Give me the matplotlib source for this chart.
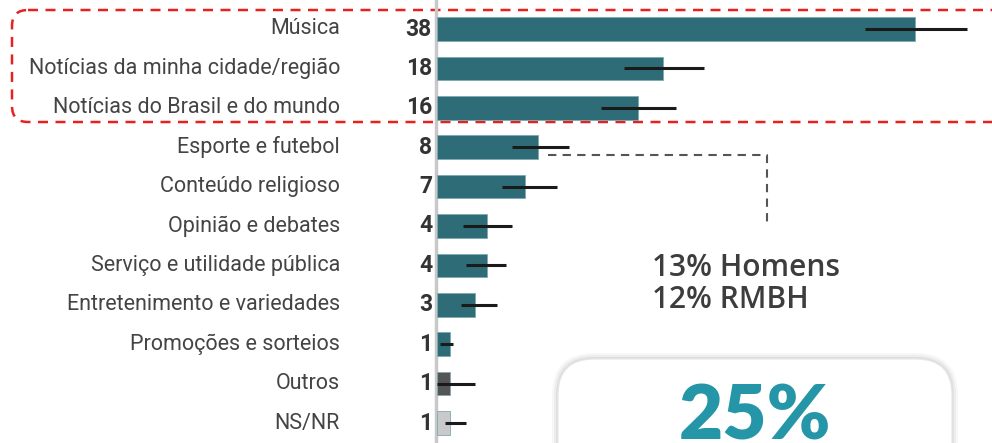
import matplotlib
matplotlib.use("Agg")
import matplotlib.pyplot as plt
from matplotlib.patches import FancyBboxPatch
from matplotlib.transforms import blended_transform_factory

categories = [
    "Música",
    "Notícias da minha cidade/região",
    "Notícias do Brasil e do mundo",
    "Esporte e futebol",
    "Conteúdo religioso",
    "Opinião e debates",
    "Serviço e utilidade pública",
    "Entretenimento e variedades",
    "Promoções e sorteios",
    "Outros",
    "NS/NR",
]
values = [38, 18, 16, 8, 7, 4, 4, 3, 1, 1, 1]
err_low = [4.0, 3.1, 3.0, 2.0, 1.8, 1.9, 1.7, 1.1, 0.8, 1.0, 0.4]
err_high = [4.1, 3.2, 3.0, 2.5, 2.5, 2.0, 1.5, 1.8, 0.3, 2.0, 1.3]

teal = "#2e6d78"
bar_colors = [teal] * 9 + ["#555555", "#c9c9c9"]

W, H = 992, 443
fig = plt.figure(figsize=(W / 100, H / 100), dpi=100)

# overlay in pixel coordinates for decorations
ov = fig.add_axes([0, 0, 1, 1], zorder=0)
ov.set_xlim(0, W)
ov.set_ylim(H, 0)
ov.axis("off")

x0 = 437
px_per_unit = 12.58
row0, step = 29, 39.4

ax = fig.add_axes([x0 / W, 0, (W - x0) / W, 1], zorder=2)
ax.patch.set_alpha(0)
ax.set_xlim(0, (W - x0) / px_per_unit)
ax.set_ylim((H - row0) / step, -row0 / step)
ax.axis("off")

ypos = list(range(len(categories)))
ax.barh(ypos, values, height=0.6, color=bar_colors,
        edgecolor="#7fa9b0", linewidth=0.6, zorder=2)
ax.errorbar(values, ypos, xerr=[err_low, err_high], fmt="none",
            ecolor="#1a1a1a", elinewidth=2.2, capsize=0, zorder=3)
ax.axvline(-0.07, color="#c8c8c8", lw=2.5, zorder=1, clip_on=False)

tr = blended_transform_factory(fig.transFigure, ax.transData)
for i, (cat, v) in enumerate(zip(categories, values)):
    fig.text(340 / W, i, cat, transform=tr, ha="right", va="center",
             fontsize=15.5, family="Roboto", color="#444444")
    fig.text(432 / W, i, str(v), transform=tr, ha="right", va="center",
             fontsize=16.5, family="Roboto", weight="bold", color="#333333")

# red dashed highlight box
ov.add_patch(FancyBboxPatch((12, 10), 1000, 112,
                            boxstyle="round,pad=0,rounding_size=16",
                            fill=False, ec="#e8201f", lw=1.8,
                            ls=(0, (4, 3)), zorder=5))

# connector
ov.plot([548, 767, 767], [155, 155, 223], color="#555555", lw=1.5,
        ls=(0, (4, 3)), zorder=1)

ov.text(652, 268, "13% Homens", ha="left", va="center", fontsize=21.5,
        family="Open Sans", weight="semibold", color="#3d3d3d")
ov.text(652, 300, "12% RMBH", ha="left", va="center", fontsize=21.5,
        family="Open Sans", weight="semibold", color="#3d3d3d")

# card with soft shadow
for k, a in [(6, 0.03), (4, 0.04), (2, 0.06)]:
    ov.add_patch(FancyBboxPatch((558 - k, 359 - k), 394 + 2 * k, 200,
                                boxstyle=f"round,pad=0,rounding_size={36 + k}",
                                fc="#000000", ec="none", alpha=a, zorder=3))
ov.add_patch(FancyBboxPatch((558, 359), 394, 200,
                            boxstyle="round,pad=0,rounding_size=36",
                            fc="white", ec="#e6e6e6", lw=0.8, zorder=4))
ov.text(755, 440, "25%", ha="center", va="baseline", fontsize=55,
        family="Lato", weight="heavy", color="#2596a8", zorder=6)

fig.savefig("out.png", dpi=100)
